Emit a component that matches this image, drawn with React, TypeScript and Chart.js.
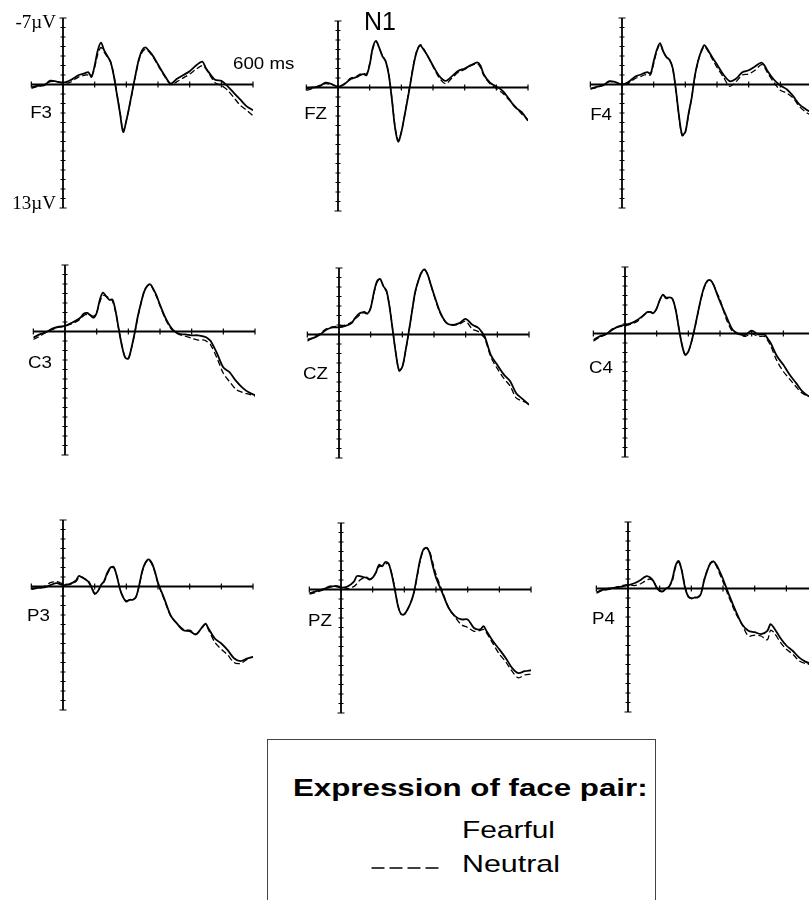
import React, { useEffect, useRef } from "react";
import { Chart, registerables } from "chart.js";

Chart.register(...registerables);

// ---- time base (ms) and axis ticks ----
const TIMES = [
  -100, -80, -60, -40, -20, 0, 20,
  40, 50, 60, 70, 80, 90, 100, 110, 120, 130, 140, 150, 160, 170, 180, 190, 200,
  210, 220, 230, 240, 250, 260, 270, 280, 290, 300,
  320, 340, 360, 380, 400, 420,
  440, 450, 460,
  480, 500, 520, 540, 560, 580, 600,
];
const X_TICKS = [-100, 0, 100, 200, 300, 400, 500, 600];
const Y_TICKS = [-7, -6, -5, -4, -3, -2, -1, 0, 1, 2, 3, 4, 5, 6, 7, 8, 9, 10, 11, 12, 13];
const X_MIN = -100;
const X_MAX = 600;
const Y_MIN = -7;
const Y_MAX = 13;

// ---- series (µV, negative up) ----
const F3_FEARFUL = [0.3, 0.15, 0.1, -0.4, -0.3, -0.2, -0.4,
  -0.8, -1.0, -1.1, -1.2, -1.3, -0.8, -2.0, -3.6, -4.4, -3.6, -3.0, -2.4, -1.0, 1.0, 3.0, 5.0, 3.8,
  2.2, 0.5, -1.2, -2.7, -3.6, -3.9, -3.6, -3.2, -2.7, -2.1,
  -1.0, -0.1, -0.6, -1.0, -1.4, -2.0,
  -2.4, -1.8, -1.3,
  -0.5, -0.4, 0.2, 0.9, 1.6, 2.3, 2.7];
const F3_NEUTRAL = [0.4, 0.2, 0.0, -0.3, -0.3, -0.2, -0.2,
  -0.6, -0.8, -0.9, -1.0, -1.0, -0.9, -1.8, -3.2, -3.9, -3.4, -2.9, -2.4, -1.1, 0.9, 2.9, 4.9, 3.8,
  2.3, 0.6, -1.1, -2.6, -3.4, -3.7, -3.5, -3.1, -2.6, -2.0,
  -0.9, 0.0, -0.3, -0.7, -1.1, -1.6,
  -2.0, -1.7, -1.2,
  -0.2, 0.1, 0.6, 1.4, 2.2, 2.7, 3.3];

const FZ_FEARFUL = [0.1, 0.0, -0.1, -0.5, -0.35, -0.1, -0.35,
  -0.9, -1.0, -1.1, -1.3, -1.4, -1.3, -2.4, -4.2, -4.9, -4.2, -3.3, -2.8, -1.4, 1.2, 4.2, 5.7, 4.7,
  3.0, 1.2, -0.7, -2.6, -3.9, -4.4, -4.0, -3.5, -2.9, -2.3,
  -1.2, -0.7, -1.2, -1.75, -2.0, -2.35,
  -2.65, -2.3, -1.4,
  -0.5, -0.1, 0.35, 1.2, 2.1, 2.6, 3.5];
const FZ_NEUTRAL = [0.3, 0.1, -0.2, -0.4, -0.3, -0.1, -0.4,
  -1.0, -1.1, -1.2, -1.4, -1.5, -1.4, -2.5, -4.1, -4.8, -4.2, -3.4, -2.8, -1.5, 1.1, 4.1, 5.6, 4.7,
  3.0, 1.1, -0.8, -2.7, -4.0, -4.5, -4.1, -3.5, -2.9, -2.2,
  -1.0, -0.4, -1.0, -1.6, -1.9, -2.3,
  -2.5, -2.1, -1.3,
  -0.4, 0.1, 0.6, 1.3, 2.0, 2.8, 3.4];

const F4_FEARFUL = [0.45, 0.25, 0.1, -0.35, -0.25, 0.0, -0.25,
  -0.8, -0.95, -1.05, -1.2, -1.3, -1.15, -2.45, -3.65, -4.35, -3.5, -2.9, -2.6, -1.75, 0.5, 3.3, 5.3, 5.0,
  3.1, 1.4, -0.9, -2.45, -3.5, -4.15, -3.7, -3.15, -2.6, -2.1,
  -1.05, -0.35, -0.6, -1.3, -1.5, -1.9,
  -2.3, -2.0, -1.4,
  -0.5, 0.1, 0.5, 1.2, 2.1, 2.6, 3.0];
const F4_NEUTRAL = [0.5, 0.3, 0.05, -0.3, -0.2, 0.0, -0.1,
  -0.6, -0.75, -0.85, -1.0, -1.05, -1.0, -2.2, -3.5, -4.25, -3.5, -2.9, -2.6, -1.7, 0.6, 3.4, 5.4, 5.0,
  3.2, 1.4, -0.8, -2.4, -3.4, -4.0, -3.6, -3.0, -2.4, -1.8,
  -0.8, 0.2, -0.3, -1.0, -1.1, -1.5,
  -2.1, -1.8, -1.2,
  -0.2, 0.6, 0.9, 1.4, 2.3, 2.9, 3.3];

const C3_FEARFUL = [0.65, 0.3, 0.07, -0.3, -0.5, -0.6, -0.9,
  -1.25, -1.5, -1.9, -1.95, -1.7, -1.45, -1.95, -3.35, -4.1, -3.7, -3.35, -3.35, -2.1, -0.2, 1.55, 2.75, 2.85,
  1.7, 0.15, -1.6, -3.0, -4.2, -4.8, -4.95, -4.4, -3.7, -2.8,
  -1.25, -0.2, 0.25, 0.3, 0.4, 0.4,
  0.55, 0.7, 1.0,
  2.3, 3.8, 4.3, 5.2, 5.9, 6.4, 6.7];
const C3_NEUTRAL = [0.85, 0.5, 0.1, -0.2, -0.45, -0.55, -0.8,
  -1.1, -1.4, -1.7, -1.8, -1.75, -1.6, -2.0, -3.1, -3.8, -3.7, -3.5, -3.2, -2.0, -0.2, 1.5, 2.7, 2.85,
  1.75, 0.2, -1.5, -3.0, -4.2, -4.8, -4.9, -4.3, -3.6, -2.7,
  -1.1, -0.1, 0.3, 0.5, 0.7, 0.9,
  0.9, 1.1, 1.4,
  2.8, 4.4, 5.3, 6.1, 6.4, 6.6, 6.8];

const CZ_FEARFUL = [0.55, 0.35, 0.0, -0.5, -0.75, -0.75, -0.9,
  -1.2, -1.7, -2.1, -2.3, -2.3, -2.2, -2.8, -4.4, -5.6, -5.85, -5.1, -4.6, -2.8, -0.35, 2.1, 3.8, 3.4,
  1.75, -0.2, -2.3, -4.4, -5.6, -6.5, -6.85, -6.3, -5.25, -4.2,
  -2.3, -1.2, -1.0, -1.2, -1.65, -1.05,
  -0.7, -0.3, 0.2,
  2.2, 3.2, 4.2, 4.9, 6.2, 6.8, 7.4];
const CZ_NEUTRAL = [0.7, 0.3, -0.1, -0.6, -0.8, -0.9, -1.0,
  -1.3, -1.6, -1.9, -2.2, -2.4, -2.2, -2.8, -4.3, -5.5, -5.8, -5.1, -4.5, -2.9, -0.4, 2.1, 3.8, 3.4,
  1.8, -0.2, -2.3, -4.3, -5.6, -6.5, -6.8, -6.3, -5.2, -4.1,
  -2.2, -1.2, -1.0, -1.1, -1.4, -0.6,
  -0.3, 0.0, 0.4,
  2.4, 3.6, 4.6, 5.4, 6.7, 7.0, 7.3];

const C4_FEARFUL = [0.67, 0.3, 0.07, -0.4, -0.75, -0.9, -1.1,
  -1.45, -1.7, -1.95, -2.25, -2.25, -2.15, -2.65, -3.55, -4.1, -3.7, -3.8, -3.65, -2.5, -0.55, 1.2, 2.25, 1.9,
  0.85, -0.55, -2.15, -3.7, -4.9, -5.55, -5.6, -5.1, -4.2, -3.35,
  -1.8, -0.4, 0.05, 0.15, -0.3, 0.1,
  0.1, 0.5, 1.0,
  2.4, 3.3, 4.35, 5.2, 6.1, 6.6, 6.8];
const C4_NEUTRAL = [0.8, 0.4, 0.1, -0.5, -0.7, -0.8, -1.0,
  -1.3, -1.6, -2.0, -2.2, -2.3, -2.1, -2.6, -3.5, -4.0, -3.8, -3.8, -3.6, -2.5, -0.6, 1.2, 2.25, 1.9,
  0.9, -0.5, -2.1, -3.6, -4.8, -5.5, -5.6, -5.1, -4.3, -3.6,
  -1.5, -0.2, 0.1, 0.3, 0.0, 0.3,
  0.3, 0.7, 1.3,
  2.9, 4.0, 4.8, 5.6, 6.3, 6.6, 6.8];

const P3_FEARFUL = [0.2, 0.15, 0.1, -0.15, -0.35, -0.15, -0.25,
  -0.6, -1.1, -0.95, -0.75, -0.5, 0.1, 0.8, 0.5, -0.15, -0.6, -1.45, -2.0, -2.05, -1.1, 0.3, 1.15, 1.6,
  1.4, 1.4, 1.15, -0.05, -1.6, -2.5, -2.85, -2.5, -1.6, -0.4,
  1.3, 3.05, 3.9, 4.6, 4.7, 5.05,
  4.25, 3.9, 4.45,
  5.5, 6.0, 6.7, 7.55, 7.85, 7.6, 7.4];
const P3_NEUTRAL = [0.3, 0.2, 0.0, -0.4, -0.5, -0.3, -0.2,
  -0.5, -0.9, -1.0, -0.8, -0.6, 0.0, 0.7, 0.5, -0.1, -0.5, -1.3, -1.9, -2.0, -1.1, 0.3, 1.1, 1.5,
  1.4, 1.4, 1.1, 0.0, -1.5, -2.45, -2.8, -2.4, -1.5, -0.3,
  1.4, 3.1, 3.9, 4.5, 4.6, 5.0,
  4.3, 4.0, 4.6,
  5.9, 6.6, 7.2, 8.0, 8.1, 7.7, 7.4];

const PZ_FEARFUL = [0.4, 0.2, 0.0, -0.2, -0.35, -0.2, -0.3,
  -0.8, -1.4, -1.4, -1.3, -1.25, -1.05, -1.25, -1.75, -2.6, -2.45, -2.9, -2.75, -1.6, 0.0, 1.75, 2.6, 2.6,
  2.1, 1.4, 0.35, -1.4, -3.15, -4.2, -4.4, -3.85, -2.45, -1.25,
  0.35, 1.95, 2.8, 3.15, 3.15, 4.05,
  4.2, 3.85, 4.4,
  5.45, 6.3, 7.2, 8.25, 8.8, 8.6, 8.5];
const PZ_NEUTRAL = [0.5, 0.3, 0.1, -0.3, -0.4, -0.3, -0.1,
  -0.3, -0.6, -1.0, -1.2, -1.3, -1.1, -1.3, -1.8, -2.4, -2.5, -2.7, -2.7, -1.7, -0.1, 1.7, 2.6, 2.6,
  2.1, 1.4, 0.4, -1.3, -3.0, -4.1, -4.4, -4.0, -2.8, -1.6,
  0.2, 1.9, 2.9, 3.7, 4.0, 4.4,
  4.3, 4.2, 4.6,
  5.7, 6.8, 7.6, 8.6, 9.3, 9.0, 8.9];

const P4_FEARFUL = [0.4, 0.15, 0.0, -0.1, -0.2, -0.35, -0.55,
  -0.9, -1.15, -1.3, -1.15, -0.8, -0.1, 0.25, 0.3, 0.0, -0.2, -1.0, -2.4, -2.9, -1.85, -0.1, 0.85, 1.05,
  0.95, 0.95, 0.6, -0.8, -1.85, -2.65, -2.85, -2.45, -1.75, -1.0,
  0.75, 2.35, 3.75, 4.45, 4.6, 4.8,
  4.45, 3.75, 4.1,
  5.15, 6.0, 6.55, 7.25, 7.7, 7.95, 8.1];
const P4_NEUTRAL = [0.5, 0.2, 0.1, -0.1, -0.3, -0.4, -0.3,
  -0.5, -0.7, -0.9, -1.0, -0.8, -0.2, 0.2, 0.3, 0.05, -0.2, -0.8, -2.2, -2.8, -1.9, -0.2, 0.8, 1.0,
  0.95, 0.9, 0.5, -0.9, -1.9, -2.6, -2.8, -2.3, -1.5, -0.7,
  1.0, 2.6, 3.8, 5.0, 4.9, 5.0,
  5.4, 4.4, 4.6,
  5.6, 6.4, 6.9, 7.6, 7.9, 8.0, 8.1];

const SERIES_NAMES = ["Fearful", "Neutral"];

// ---- layout (page pixels) ----
const PX_PER_MS = 31.67 / 100;
const PX_PER_UV = 9.5;
const PLOT_W = (X_MAX - X_MIN) * PX_PER_MS;
const PLOT_H = (Y_MAX - Y_MIN) * PX_PER_UV;
const CANVAS_W = 240;
const CANVAS_H = 206;

type Panel = {
  name: string;
  fearful: number[];
  neutral: number[];
  x0: number; // page x of 0 ms
  yTop: number; // page y of -7 µV
  labelRight: number;
  labelY: number;
};

const PANELS: Panel[] = [
  { name: "F3", fearful: F3_FEARFUL, neutral: F3_NEUTRAL, x0: 63, yTop: 18, labelRight: 52, labelY: 112 },
  { name: "FZ", fearful: FZ_FEARFUL, neutral: FZ_NEUTRAL, x0: 338, yTop: 21, labelRight: 327, labelY: 113 },
  { name: "F4", fearful: F4_FEARFUL, neutral: F4_NEUTRAL, x0: 622, yTop: 18, labelRight: 612, labelY: 114 },
  { name: "C3", fearful: C3_FEARFUL, neutral: C3_NEUTRAL, x0: 65, yTop: 265, labelRight: 52, labelY: 362 },
  { name: "CZ", fearful: CZ_FEARFUL, neutral: CZ_NEUTRAL, x0: 339, yTop: 268, labelRight: 328, labelY: 373 },
  { name: "C4", fearful: C4_FEARFUL, neutral: C4_NEUTRAL, x0: 625, yTop: 267, labelRight: 613, labelY: 367 },
  { name: "P3", fearful: P3_FEARFUL, neutral: P3_NEUTRAL, x0: 63, yTop: 520, labelRight: 50, labelY: 615 },
  { name: "PZ", fearful: PZ_FEARFUL, neutral: PZ_NEUTRAL, x0: 341, yTop: 523, labelRight: 332, labelY: 620 },
  { name: "P4", fearful: P4_FEARFUL, neutral: P4_NEUTRAL, x0: 628, yTop: 522, labelRight: 615, labelY: 618 },
];

const SANS = '"Liberation Sans", Arial, sans-serif';
const SERIF = '"Liberation Serif", "Times New Roman", serif';

const axesPlugin = {
  id: "erpAxes",
  beforeDatasetsDraw(chart: any) {
    const { ctx } = chart;
    const x = chart.scales.x;
    const y = chart.scales.y;
    const px0 = x.getPixelForValue(0);
    const py0 = y.getPixelForValue(0);
    ctx.save();
    ctx.strokeStyle = "#000";
    ctx.lineWidth = 1.8;
    ctx.beginPath();
    ctx.moveTo(x.getPixelForValue(X_MIN), py0);
    ctx.lineTo(x.getPixelForValue(X_MAX), py0);
    ctx.moveTo(px0, y.getPixelForValue(Y_MIN));
    ctx.lineTo(px0, y.getPixelForValue(Y_MAX));
    ctx.stroke();
    ctx.lineWidth = 1.2;
    ctx.beginPath();
    for (const v of Y_TICKS) {
      const py = y.getPixelForValue(v);
      const half = v === Y_MIN || v === Y_MAX ? 3.5 : 2.5;
      ctx.moveTo(px0 - half, py);
      ctx.lineTo(px0 + half, py);
    }
    for (const t of X_TICKS) {
      const px = x.getPixelForValue(t);
      ctx.moveTo(px, py0 - 3);
      ctx.lineTo(px, py0 + 3);
    }
    ctx.stroke();
    ctx.restore();
  },
};

function ErpPanel({ panel }: { panel: Panel }) {
  const ref = useRef<HTMLCanvasElement>(null);
  const left = panel.x0 - 40;
  const top = panel.yTop - 8;
  const padLeft = 40 - -X_MIN * PX_PER_MS;
  useEffect(() => {
    const canvas = ref.current;
    if (!canvas) return;
    const chart = new Chart(canvas, {
      type: "line",
      data: {
        datasets: [
          {
            label: SERIES_NAMES[0],
            data: TIMES.map((t, i) => ({ x: t, y: panel.fearful[i] })),
            borderColor: "#000",
            borderWidth: 1.8,
            pointRadius: 0,
            tension: 0.3,
            fill: false,
          },
          {
            label: SERIES_NAMES[1],
            data: TIMES.map((t, i) => ({ x: t, y: panel.neutral[i] })),
            borderColor: "#000",
            borderWidth: 1.3,
            borderDash: [6, 3],
            pointRadius: 0,
            tension: 0.3,
            fill: false,
          },
        ],
      },
      options: {
        responsive: false,
        animation: false,
        events: [],
        layout: {
          padding: {
            left: padLeft,
            right: CANVAS_W - padLeft - PLOT_W,
            top: 8,
            bottom: CANVAS_H - 8 - PLOT_H,
          },
        },
        scales: {
          x: { type: "linear", min: X_MIN, max: X_MAX, display: false },
          y: { type: "linear", min: Y_MIN, max: Y_MAX, reverse: true, display: false },
        },
        plugins: {
          legend: { display: false },
          tooltip: { enabled: false },
          title: { display: false },
        },
      },
      plugins: [axesPlugin],
    });
    return () => chart.destroy();
  }, [panel]);

  return (
    <canvas
      ref={ref}
      width={CANVAS_W}
      height={CANVAS_H}
      style={{ position: "absolute", left, top, width: CANVAS_W, height: CANVAS_H }}
    />
  );
}

function Text({
  children,
  left,
  right,
  top,
  size,
  family = SANS,
  weight = 400,
  sx = 1,
}: {
  children: React.ReactNode;
  left?: number;
  right?: number;
  top: number;
  size: number;
  family?: string;
  weight?: number;
  sx?: number;
}) {
  const style: React.CSSProperties = {
    position: "absolute",
    top,
    fontSize: size,
    lineHeight: `${size}px`,
    fontFamily: family,
    fontWeight: weight,
    color: "#000",
    whiteSpace: "nowrap",
    transform: `scaleX(${sx})`,
  };
  if (right !== undefined) {
    style.left = right - 200;
    style.width = 200;
    style.textAlign = "right";
    style.transformOrigin = "right center";
  } else {
    style.left = left;
    style.transformOrigin = "left center";
  }
  return <div style={style}>{children}</div>;
}

export default function App() {
  const LS = 17;
  return (
    <div
      style={{
        position: "fixed",
        left: 0,
        top: 0,
        width: 809,
        height: 900,
        overflow: "hidden",
        background: "#fff",
      }}
    >
      {PANELS.map((p) => (
        <ErpPanel key={p.name} panel={p} />
      ))}
      {PANELS.map((p) => (
        <Text key={"l" + p.name} right={p.labelRight} top={p.labelY - 0.49 * LS} size={LS} sx={1.1}>
          {p.name}
        </Text>
      ))}
      <Text right={56} top={21.5 - 0.5 * 19} size={19} family={SERIF}>
        -7µV
      </Text>
      <Text right={56} top={202.5 - 0.5 * 19} size={19} family={SERIF}>
        13µV
      </Text>
      <Text left={233} top={63.5 - 0.49 * 17} size={17} sx={1.1}>
        600 ms
      </Text>
      <Text left={364} top={21 - 0.49 * 25} size={25}>
        N1
      </Text>

      {/* legend */}
      <div
        style={{
          position: "absolute",
          left: 267,
          top: 739,
          width: 389,
          height: 200,
          border: "1px solid #444",
          boxSizing: "border-box",
        }}
      />
      <Text left={293} top={780 - 0.131 * 23} size={23} weight={700} sx={1.36}>
        Expression of face pair:
      </Text>
      <Text left={462} top={821 - 0.131 * 24} size={24} sx={1.245}>
        {SERIES_NAMES[0]}
      </Text>
      <svg
        width={72}
        height={6}
        style={{ position: "absolute", left: 371, top: 865 }}
      >
        <line x1={0.5} y1={3} x2={70} y2={3} stroke="#000" strokeWidth={1.3} strokeDasharray="13 5" />
      </svg>
      <Text left={462} top={855 - 0.131 * 24} size={24} sx={1.267}>
        {SERIES_NAMES[1]}
      </Text>
    </div>
  );
}
